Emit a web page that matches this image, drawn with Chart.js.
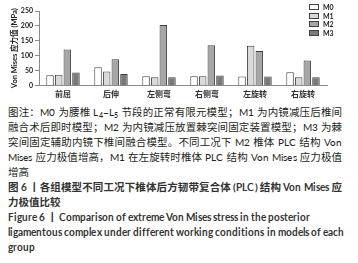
<!DOCTYPE html>
<html>
<head>
<meta charset="utf-8">
<script src="https://cdn.jsdelivr.net/npm/chart.js@4.4.0/dist/chart.umd.min.js"></script>
<style>
  @font-face { font-family: 'CapLatin'; src: local('Lato Regular'), local('Lato-Regular'), local('Lato'); font-weight: 400; size-adjust: 96%; }
  @font-face { font-family: 'CapLatin'; src: local('Lato Bold'), local('Lato-Bold'); font-weight: 700; size-adjust: 94%; }
  body { margin: 0; background: #fff; width: 358px; height: 263px; overflow: hidden; }
  #wrap { position: relative; width: 358px; height: 105px; }
  .cap { width: 334px; padding-left: 8px; font-family: CapLatin, Lato, "Noto Sans CJK SC", sans-serif; font-size: 10.5px; line-height: 15px; color: #231f20; }
  .cap div { white-space: nowrap; }
  .cap .bold { font-weight: bold; color: #333; }
  .cap sub { font-size: 7px; line-height: 0; vertical-align: -2px; }
</style>
</head>
<body>
<div id="wrap"><canvas id="chart"></canvas></div>
<div class="cap">
  <div class="fit">图注：M0 为腰椎 L<sub>4</sub>–L<sub>5</sub> 节段的正常有限元模型；M1 为内镜减压后椎间</div>
  <div class="fit">融合术后即时模型；M2 为内镜减压放置棘突间固定装置模型；M3 为棘</div>
  <div class="fit">突间固定辅助内镜下椎间融合模型。不同工况下 M2 椎体 PLC 结构 Von</div>
  <div class="fit">Mises 应力极值增高，M1 在左旋转时椎体 PLC 结构 Von Mises 应力极值</div>
  <div>增高</div>
  <div class="bold fit">图 6 丨各组模型不同工况下椎体后方韧带复合体 (PLC) 结构 Von Mises 应</div>
  <div class="bold">力极值比较</div>
  <div class="bold">Figure 6 丨 Comparison of extreme Von Mises stress in the posterior</div>
  <div class="bold fit">ligamentous complex under different working conditions in models of each</div>
  <div class="bold">group</div>
</div>
<script>
// 工况 categories and Von Mises stress (MPa) per model
var categories = ['前屈', '后伸', '左侧弯', '右侧弯', '左旋转', '右旋转'];
var seriesNames = ['M0', 'M1', 'M2', 'M3'];
var m0 = [34, 61, 31, 31, 30, 44];
var m1 = [36, 47, 27, 31, 133, 27];
var m2 = [121, 88, 203, 135, 116, 84];
var m3 = [43, 38, 27, 33, 30, 27];
var yTicks = [0, 50, 100, 150, 200, 250];

var fills = ['#ffffff', '#d9d9d9', '#a6a6a6', '#7a7a7a'];
var values = [m0, m1, m2, m3];

// stretch / squeeze each caption line to the full text width
function fitLines() {
    document.querySelectorAll('.cap .fit').forEach(function (line) {
        var span = line.firstElementChild && line.firstElementChild.className === 'inner' ? line.firstElementChild : null;
        if (!span) {
            span = document.createElement('span');
            span.className = 'inner';
            while (line.firstChild) span.appendChild(line.firstChild);
            line.appendChild(span);
        }
        span.style.letterSpacing = '0px';
        var w = span.getBoundingClientRect().width;
        var n = span.textContent.length;
        span.style.letterSpacing = ((334 - w) / (n - 1)) + 'px';
    });
}
fitLines();
if (document.fonts && document.fonts.ready) document.fonts.ready.then(fitLines);

// legend drawn inside the plot, top right
const insideLegend = {
    id: 'insideLegend',
    afterDraw(chart) {
        const ctx = chart.ctx;
        const area = chart.chartArea;
        ctx.save();
        ctx.font = 'bold 7px Lato, sans-serif';
        ctx.textBaseline = 'middle';
        chart.data.datasets.forEach((ds, i) => {
            const x = area.right - 18;
            const y = Math.round(area.top - 4.3 + i * 8.8);
            ctx.fillStyle = ds.backgroundColor;
            ctx.fillRect(x, y - 3, 10, 6);
            ctx.strokeStyle = ds.borderColor;
            ctx.lineWidth = 1;
            ctx.strokeRect(x + 0.5, y - 2.5, 9, 5);
            ctx.fillStyle = '#222';
            ctx.fillText(ds.label, x + 14, y + 0.5);
        });
        ctx.restore();
    }
};

var ctx = document.getElementById('chart');
new Chart(ctx, {
    type: 'bar',
    data: {
        labels: categories,
        datasets: seriesNames.map((name, i) => ({
            label: name,
            data: values[i],
            backgroundColor: fills[i],
            borderColor: '#404040',
            borderWidth: 1,
            categoryPercentage: 0.72,
            barPercentage: 0.87
        }))
    },
    options: {
        responsive: true,
        maintainAspectRatio: false,
        animation: false,
        layout: {
            padding: { left: 10, right: 31, top: 11, bottom: 2 }
        },
        plugins: {
            legend: { display: false },
            tooltip: { enabled: false }
        },
        scales: {
            x: {
                grid: { display: false, drawTicks: false },
                border: { display: true, color: '#8a8a8a' },
                ticks: {
                    padding: 4,
                    color: '#333',
                    font: { size: 8, weight: 'bold', family: '"Noto Sans CJK SC"' }
                }
            },
            y: {
                min: 0,
                max: 250,
                afterBuildTicks: (scale) => { scale.ticks = yTicks.map(v => ({ value: v })); },
                afterFit: (scale) => { scale.width = 29; },
                grid: { drawOnChartArea: false, tickLength: 4, color: '#8a8a8a' },
                border: { color: '#8a8a8a' },
                ticks: {
                    padding: 2,
                    color: '#222',
                    font: { size: 7, weight: 'bold', family: 'Lato' }
                },
                title: {
                    display: true,
                    text: 'Von Mises 应力值 (MPa)',
                    color: '#222',
                    padding: { top: 0, bottom: 2 },
                    font: { size: 7.5, weight: 'bold', family: 'Lato, "Noto Sans CJK SC"' }
                }
            }
        }
    },
    plugins: [insideLegend]
});
</script>
</body>
</html>
